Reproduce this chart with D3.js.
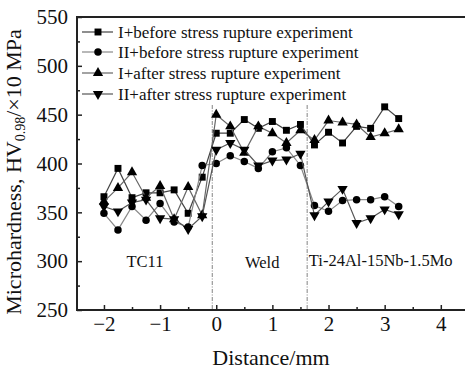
<!DOCTYPE html>
<html lang="en">
  <head>
    <meta charset="UTF-8" />
    <title>Microhardness profile</title>
    <script src="https://d3js.org/d3.v7.min.js"></script>
    <style>
      body {
        margin: 0;
        background: #fff;
      }
      svg text {
        font-family: "Liberation Serif", "DejaVu Serif", serif;
        fill: #111;
      }
    </style>
  </head>
  <body>
    <svg id="chart" width="465" height="372"></svg>

    <script>
      // distance (mm) of each measuring point
      const distance = [-2, -1.75, -1.5, -1.25, -1, -0.75, -0.5, -0.25, 0, 0.25, 0.5, 0.75, 1, 1.25, 1.5, 1.75, 2, 2.25, 2.5, 2.75, 3, 3.25];

      const hvIBefore = [366, 395, 365, 370, 370, 373, 349, 386, 431, 431, 445, 436, 443, 434, 440, 419, 432, 421, 438, 436, 458, 446];
      const hvIIBefore = [349, 332, 356, 342, 359, 340, 335, 398, 400, 408, 402, 395, 412, 416, 398, 357, 351, 362, 363, 363, 366, 356];
      const hvIAfter = [361, 375, 391, 365, 377, 343, 376, 347, 450, 438, 411, 438, 431, 421, 434, 424, 444, 442, 440, 427, 431, 435];
      const hvIIAfter = [356, 351, 360, 363, 344, 343, 333, 346, 414, 421, 414, 398, 403, 404, 410, 347, 361, 374, 339, 344, 353, 348];

      const seriesNames = [
        "I+before stress rupture experiment",
        "II+before stress rupture experiment",
        "I+after stress rupture experiment",
        "II+after stress rupture experiment",
      ];

      const xTicks = [-2, -1, 0, 1, 2, 3, 4];
      const yTicks = [250, 300, 350, 400, 450, 500, 550];

      // zone boundaries and labels
      const boundaries = [-0.07, 1.62];
      const zones = [
        { name: "TC11", x: -1.27, hv: 300 },
        { name: "Weld", x: 0.82, hv: 299 },
        { name: "Ti-24Al-15Nb-1.5Mo", x: 2.93, hv: 301 },
      ];

      const svg = d3.select("#chart");

      const x = d3.scaleLinear().domain([-2.48, 4.52]).range([77, 470]);
      const y = d3.scaleLinear().domain([250, 550]).range([310, 17]);

      const series = [
        { name: seriesNames[0], values: hvIBefore, shape: d3.symbolSquare, size: 48, rot: 0, line: "#444" },
        { name: seriesNames[1], values: hvIIBefore, shape: d3.symbolCircle, size: 44, rot: 0, line: "#888" },
        { name: seriesNames[2], values: hvIAfter, shape: d3.symbolTriangle, size: 46, rot: 0, line: "#666" },
        { name: seriesNames[3], values: hvIIAfter, shape: d3.symbolTriangle, size: 46, rot: 180, line: "#555" },
      ];

      // zone boundaries
      svg
        .selectAll(".boundary")
        .data(boundaries)
        .enter()
        .append("line")
        .attr("class", "boundary")
        .attr("x1", (d) => x(d))
        .attr("x2", (d) => x(d))
        .attr("y1", y(460))
        .attr("y2", y(250))
        .attr("stroke", "#999")
        .attr("stroke-width", 1.2)
        .attr("stroke-dasharray", "4,1.5,1,1.5");

      // axes
      svg
        .append("g")
        .attr("transform", `translate(0, ${y(250)})`)
        .call(d3.axisBottom(x).tickValues(xTicks).tickSize(-5).tickPadding(6).tickFormat(d3.format("d")));
      svg
        .append("g")
        .attr("transform", `translate(0, ${y(250)})`)
        .call(d3.axisBottom(x).tickValues([-1.5, -0.5, 0.5, 1.5, 2.5, 3.5]).tickSize(-3).tickFormat(""));

      svg
        .append("g")
        .attr("transform", `translate(${x(-2.48)}, 0)`)
        .call(d3.axisLeft(y).tickValues(yTicks).tickSize(-5).tickPadding(9));
      svg
        .append("g")
        .attr("transform", `translate(${x(-2.48)}, 0)`)
        .call(d3.axisLeft(y).tickValues([275, 325, 375, 425, 475, 525]).tickSize(-3).tickFormat(""));

      svg.selectAll(".domain").remove();
      svg.selectAll(".tick line").attr("stroke", "#222").attr("stroke-width", 1.5);
      svg.selectAll(".tick text").style("font-size", "21px").attr("fill", "#111");

      // frame
      svg
        .append("rect")
        .attr("x", x(-2.48))
        .attr("y", y(550))
        .attr("width", x(4.52) - x(-2.48))
        .attr("height", y(250) - y(550))
        .attr("fill", "none")
        .attr("stroke", "#222")
        .attr("stroke-width", 2);

      // lines and markers
      const line = d3
        .line()
        .x((d, i) => x(distance[i]))
        .y((d) => y(d));

      series.forEach((s) => {
        svg
          .append("path")
          .datum(s.values)
          .attr("d", line)
          .attr("fill", "none")
          .attr("stroke", s.line)
          .attr("stroke-width", 1.2);

        svg
          .selectAll(null)
          .data(s.values)
          .enter()
          .append("path")
          .attr("d", d3.symbol().type(s.shape).size(s.size))
          .attr("transform", (d, i) => `translate(${x(distance[i])}, ${y(d)}) rotate(${s.rot})`)
          .attr("fill", "#000");
      });

      // zone labels
      svg
        .selectAll(".zone")
        .data(zones)
        .enter()
        .append("text")
        .attr("class", "zone")
        .attr("x", (d) => x(d.x))
        .attr("y", (d) => y(d.hv))
        .attr("dy", "0.35em")
        .attr("text-anchor", "middle")
        .style("font-size", "16.5px")
        .text((d) => d.name);

      // legend
      const legendRows = [32, 52, 73, 94];
      const legend = svg
        .selectAll(".legend")
        .data(series)
        .enter()
        .append("g")
        .attr("class", "legend")
        .attr("transform", (d, i) => `translate(82, ${legendRows[i]})`);

      legend
        .append("line")
        .attr("x1", 0)
        .attr("x2", 31)
        .attr("stroke", (d) => d.line)
        .attr("stroke-width", 1.2);
      legend
        .append("path")
        .attr("d", (d) => d3.symbol().type(d.shape).size(d.size)())
        .attr("transform", (d) => `translate(16, 0) rotate(${d.rot})`)
        .attr("fill", "#000");
      legend
        .append("text")
        .attr("x", 36)
        .attr("dy", "0.35em")
        .style("font-size", "17px")
        .text((d) => d.name);

      // axis titles
      svg
        .append("text")
        .attr("x", 271)
        .attr("y", 365)
        .attr("text-anchor", "middle")
        .style("font-size", "22px")
        .text("Distance/mm");

      const yTitle = svg
        .append("text")
        .attr("transform", "translate(21, 172) rotate(-90)")
        .attr("text-anchor", "middle")
        .style("font-size", "22px");
      yTitle.append("tspan").text("Microhardness, HV");
      yTitle.append("tspan").attr("dy", 4).style("font-size", "14px").text("0.98");
      yTitle.append("tspan").attr("dy", -4).text("/\u00d710 MPa");
    </script>
  </body>
</html>
